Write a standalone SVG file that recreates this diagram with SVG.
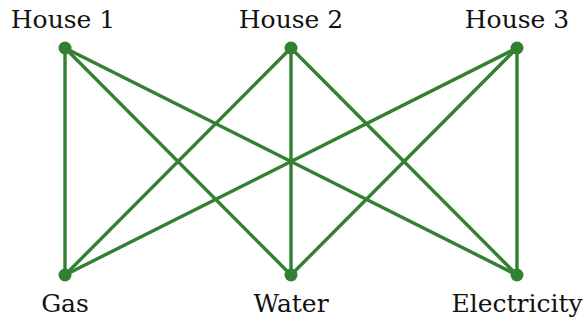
<svg xmlns="http://www.w3.org/2000/svg" width="587" height="321" viewBox="0 0 587 321">
<style>
.e{stroke:#338033;stroke-width:3.4;fill:none}
.n{fill:#338033}
.t{font-family:"DejaVu Serif",serif;font-size:25px;fill:#111;text-anchor:middle}
</style>
<rect width="587" height="321" fill="#fff"/>
<g id="connectors">
<line class="e" x1="65" y1="48" x2="65" y2="275"/>
<line class="e" x1="65" y1="48" x2="291" y2="275"/>
<line class="e" x1="65" y1="48" x2="517" y2="275"/>
<line class="e" x1="291" y1="48" x2="65" y2="275"/>
<line class="e" x1="291" y1="48" x2="291" y2="275"/>
<line class="e" x1="291" y1="48" x2="517" y2="275"/>
<line class="e" x1="517" y1="48" x2="65" y2="275"/>
<line class="e" x1="517" y1="48" x2="291" y2="275"/>
<line class="e" x1="517" y1="48" x2="517" y2="275"/>
</g>
<g id="house1"><circle class="n" cx="65" cy="48" r="6.5"/><text class="t" x="63" y="28">House 1</text></g>
<g id="house2"><circle class="n" cx="291" cy="48" r="6.5"/><text class="t" x="291" y="28">House 2</text></g>
<g id="house3"><circle class="n" cx="517" cy="48" r="6.5"/><text class="t" x="517" y="28">House 3</text></g>
<g id="gas"><circle class="n" cx="65" cy="275" r="6.5"/><text class="t" x="65" y="312">Gas</text></g>
<g id="water"><circle class="n" cx="291" cy="275" r="6.5"/><text class="t" x="291" y="312">Water</text></g>
<g id="electricity"><circle class="n" cx="517" cy="275" r="6.5"/><text class="t" x="517" y="312">Electricity</text></g>
</svg>
